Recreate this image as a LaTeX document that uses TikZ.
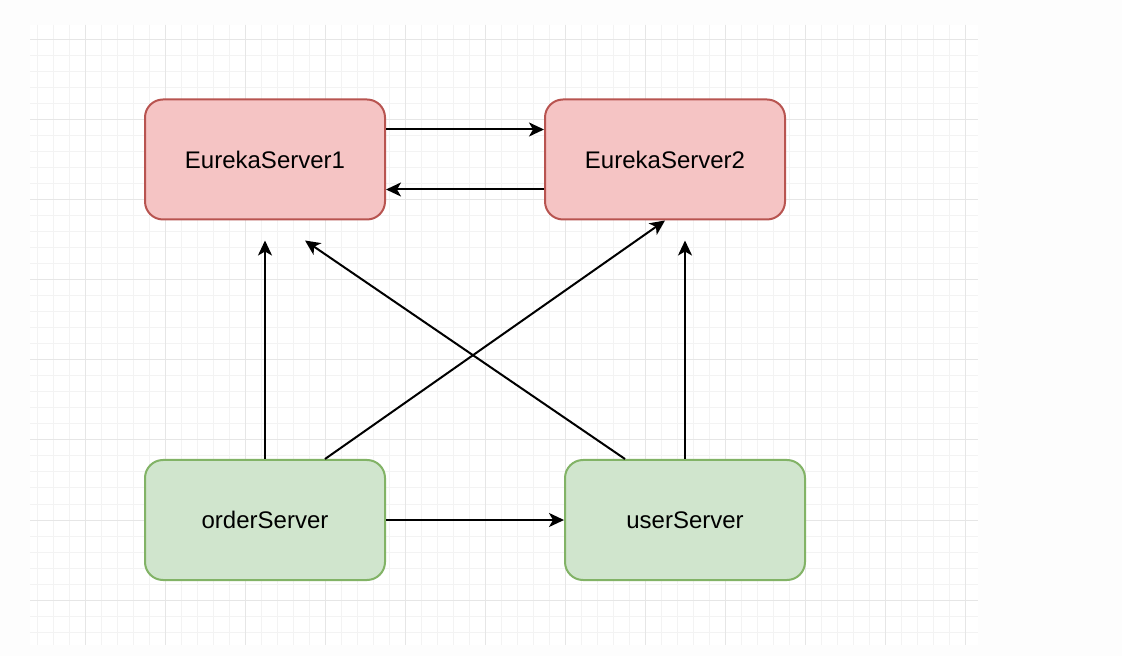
\documentclass[tikz,border=0pt]{standalone}
\usepackage{fontspec}
\setmainfont{Liberation Sans}
\usetikzlibrary{arrows.meta}
\definecolor{redfill}{HTML}{F5C4C4}
\definecolor{redline}{HTML}{B85450}
\definecolor{greenfill}{HTML}{D0E5CD}
\definecolor{greenline}{HTML}{82B366}
\definecolor{gridminor}{HTML}{F3F3F3}
\definecolor{gridmajor}{HTML}{E6E6E6}
\tikzset{
  server/.style={rectangle,rounded corners=9pt,line width=1pt,inner sep=0pt,
    minimum width=120pt,minimum height=60pt,font=\fontsize{12}{14}\selectfont},
  eureka/.style={server,draw=redline,fill=redfill},
  client/.style={server,draw=greenline,fill=greenfill},
  link/.style={->,line width=1pt}
}
\begin{document}
\begin{tikzpicture}[>={Stealth[length=7.5pt,width=7pt,inset=2pt]},x=.5pt,y=-.5pt,line cap=butt]
			\useasboundingbox (0,0) rectangle (1122,656);
			\fill[fill={rgb,255:red,253;green,253;blue,253}] (0,0) rectangle (1122,656);
			\fill[white] (30,25) rectangle (978,645);
			% grid
			\foreach \x in {37,53,...,965}{
				\draw[gridminor,line width=.5pt] (\x,25)--(\x,645);
			}
			\foreach \y in {40,56,...,632}{
				\draw[gridminor,line width=.5pt] (30,\y)--(978,\y);
			}
			\foreach \x in {85,165,...,965}{
				\draw[gridmajor,line width=.5pt] (\x,25)--(\x,645);
			}
			\foreach \y in {40,120,...,600}{
				\draw[gridmajor,line width=.5pt] (30,\y)--(978,\y);
			}
			% servers
			\node[eureka] (E1) at (265,159.5) {EurekaServer1};
			\node[eureka] (E2) at (665,159.5) {EurekaServer2};
			\node[client] (order) at (265,520) {orderServer};
			\node[client] (user) at (685,520) {userServer};
			\coordinate (e1a) at ([yshift=-10pt]E1.south);
			\coordinate (e1b) at ([xshift=20pt,yshift=-10pt]E1.south);
			\coordinate (e2b) at ([xshift=10pt,yshift=-10pt]E2.south);
			% arrows
			\draw[link] ([yshift=15pt]E1.east)--([yshift=15pt]E2.west);
			\draw[link] ([yshift=-15pt]E2.west)--([yshift=-15pt]E1.east);
			\draw[link] (order.north)--(e1a);
			\draw[link] ([xshift=30pt]order.north)--(E2.south);
			\draw[link] ([xshift=-30pt]user.north)--(e1b);
			\draw[link] (user.north)--(e2b);
			\draw[link] (order.east)--(user.west);
		\end{tikzpicture}
\end{document}
